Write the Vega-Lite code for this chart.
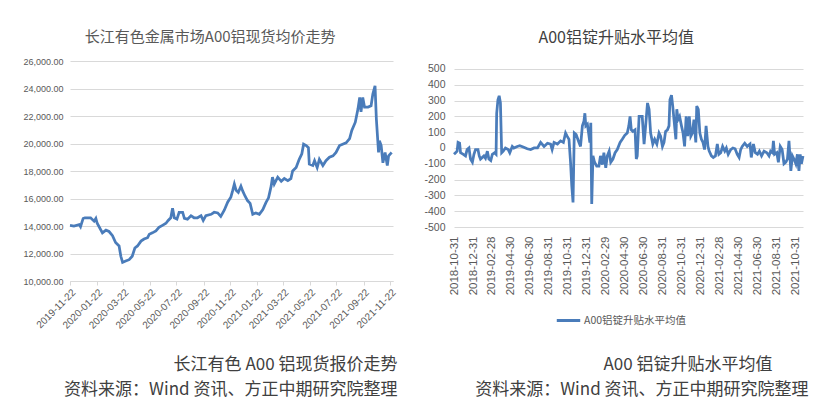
{
  "$schema": "https://vega.github.io/schema/vega-lite/v6.json",
  "background": "white",
  "padding": {"left": 22, "top": 30, "right": 5, "bottom": 0},
  "config": {
    "view": {"stroke": null},
    "font": "Noto Sans CJK SC",
    "axis": {"labelFont": "Liberation Sans", "labelColor": "#595959", "gridColor": "#d9d9d9", "title": null}
  },
  "datasets": {
    "price": [
      {"date": "2019-11-22", "price": 14050}, {"date": "2019-12-01", "price": 14000}, {"date": "2019-12-13", "price": 14100},
      {"date": "2019-12-16", "price": 13950}, {"date": "2019-12-22", "price": 14550}, {"date": "2019-12-26", "price": 14600},
      {"date": "2020-01-08", "price": 14600}, {"date": "2020-01-16", "price": 14350}, {"date": "2020-01-20", "price": 14550},
      {"date": "2020-01-23", "price": 14200}, {"date": "2020-02-04", "price": 13500}, {"date": "2020-02-12", "price": 13700},
      {"date": "2020-02-19", "price": 13600}, {"date": "2020-02-27", "price": 13300}, {"date": "2020-03-05", "price": 12800},
      {"date": "2020-03-13", "price": 12550}, {"date": "2020-03-17", "price": 11800}, {"date": "2020-03-21", "price": 11350},
      {"date": "2020-03-28", "price": 11450}, {"date": "2020-04-05", "price": 11550}, {"date": "2020-04-12", "price": 11800},
      {"date": "2020-04-18", "price": 12400}, {"date": "2020-04-24", "price": 12550}, {"date": "2020-05-02", "price": 12900},
      {"date": "2020-05-09", "price": 13050}, {"date": "2020-05-17", "price": 13150}, {"date": "2020-05-21", "price": 13400},
      {"date": "2020-05-28", "price": 13500}, {"date": "2020-06-05", "price": 13650}, {"date": "2020-06-12", "price": 13900},
      {"date": "2020-06-20", "price": 14050}, {"date": "2020-06-28", "price": 14200}, {"date": "2020-07-03", "price": 14400},
      {"date": "2020-07-09", "price": 14600}, {"date": "2020-07-13", "price": 15300}, {"date": "2020-07-17", "price": 14600},
      {"date": "2020-07-23", "price": 14500}, {"date": "2020-07-28", "price": 15000}, {"date": "2020-08-05", "price": 15000},
      {"date": "2020-08-09", "price": 14550}, {"date": "2020-08-16", "price": 14500}, {"date": "2020-08-24", "price": 14750},
      {"date": "2020-08-31", "price": 14600}, {"date": "2020-09-08", "price": 14600}, {"date": "2020-09-16", "price": 14750},
      {"date": "2020-09-21", "price": 14400}, {"date": "2020-09-27", "price": 14750}, {"date": "2020-10-09", "price": 14850},
      {"date": "2020-10-16", "price": 15000}, {"date": "2020-10-24", "price": 14950}, {"date": "2020-10-31", "price": 14700},
      {"date": "2020-11-08", "price": 15150}, {"date": "2020-11-16", "price": 15750}, {"date": "2020-11-23", "price": 16100},
      {"date": "2020-11-27", "price": 16550}, {"date": "2020-12-01", "price": 17050}, {"date": "2020-12-05", "price": 16600},
      {"date": "2020-12-10", "price": 16450}, {"date": "2020-12-16", "price": 16900}, {"date": "2020-12-20", "price": 16550},
      {"date": "2020-12-25", "price": 16200}, {"date": "2020-12-31", "price": 15850}, {"date": "2021-01-06", "price": 15650},
      {"date": "2021-01-12", "price": 14850}, {"date": "2021-01-19", "price": 14950}, {"date": "2021-01-27", "price": 14850},
      {"date": "2021-02-04", "price": 15200}, {"date": "2021-02-11", "price": 15700}, {"date": "2021-02-17", "price": 16050},
      {"date": "2021-02-23", "price": 16900}, {"date": "2021-02-26", "price": 17550}, {"date": "2021-03-02", "price": 17050},
      {"date": "2021-03-10", "price": 17550}, {"date": "2021-03-18", "price": 17250}, {"date": "2021-03-25", "price": 17450},
      {"date": "2021-04-02", "price": 17300}, {"date": "2021-04-09", "price": 17450}, {"date": "2021-04-13", "price": 18000},
      {"date": "2021-04-21", "price": 18250}, {"date": "2021-04-28", "price": 18850}, {"date": "2021-05-04", "price": 19250},
      {"date": "2021-05-08", "price": 19950}, {"date": "2021-05-14", "price": 19850}, {"date": "2021-05-19", "price": 19700},
      {"date": "2021-05-21", "price": 18500}, {"date": "2021-05-29", "price": 18400}, {"date": "2021-06-02", "price": 18750},
      {"date": "2021-06-08", "price": 18250}, {"date": "2021-06-13", "price": 18850}, {"date": "2021-06-21", "price": 18400},
      {"date": "2021-06-28", "price": 18750}, {"date": "2021-07-06", "price": 19000}, {"date": "2021-07-14", "price": 19100},
      {"date": "2021-07-21", "price": 19350}, {"date": "2021-07-29", "price": 19850}, {"date": "2021-08-05", "price": 19950},
      {"date": "2021-08-13", "price": 20050}, {"date": "2021-08-21", "price": 20350}, {"date": "2021-08-26", "price": 20950},
      {"date": "2021-09-03", "price": 21550}, {"date": "2021-09-09", "price": 22500}, {"date": "2021-09-13", "price": 23350},
      {"date": "2021-09-16", "price": 22300}, {"date": "2021-09-20", "price": 23350}, {"date": "2021-09-24", "price": 22650},
      {"date": "2021-10-02", "price": 22650}, {"date": "2021-10-09", "price": 22750}, {"date": "2021-10-13", "price": 23600},
      {"date": "2021-10-18", "price": 24200}, {"date": "2021-10-21", "price": 21800}, {"date": "2021-10-26", "price": 19350},
      {"date": "2021-10-28", "price": 20200}, {"date": "2021-11-01", "price": 19850}, {"date": "2021-11-05", "price": 18600},
      {"date": "2021-11-10", "price": 19350}, {"date": "2021-11-15", "price": 18400}, {"date": "2021-11-18", "price": 19100},
      {"date": "2021-11-22", "price": 19250}, {"date": "2021-11-25", "price": 19350}
    ],
    "prem": [
      {"date": "2018-10-31", "v": -40}, {"date": "2018-11-05", "v": -30}, {"date": "2018-11-10", "v": -20}, {"date": "2018-11-13", "v": 35},
      {"date": "2018-11-18", "v": 30}, {"date": "2018-11-21", "v": -30}, {"date": "2018-11-30", "v": -40}, {"date": "2018-12-07", "v": -50},
      {"date": "2018-12-12", "v": -10}, {"date": "2018-12-18", "v": 0}, {"date": "2018-12-23", "v": -70}, {"date": "2018-12-29", "v": -90},
      {"date": "2019-01-03", "v": -40}, {"date": "2019-01-08", "v": -10}, {"date": "2019-01-16", "v": -10}, {"date": "2019-01-20", "v": -50},
      {"date": "2019-01-24", "v": -70}, {"date": "2019-02-04", "v": -50}, {"date": "2019-02-09", "v": -65}, {"date": "2019-02-15", "v": -20},
      {"date": "2019-02-20", "v": -70}, {"date": "2019-02-26", "v": -80}, {"date": "2019-03-03", "v": -40}, {"date": "2019-03-10", "v": -30},
      {"date": "2019-03-15", "v": -40}, {"date": "2019-03-17", "v": 220}, {"date": "2019-03-21", "v": 305}, {"date": "2019-03-25", "v": 330},
      {"date": "2019-03-29", "v": 285}, {"date": "2019-04-02", "v": -30}, {"date": "2019-04-07", "v": -20}, {"date": "2019-04-14", "v": 0},
      {"date": "2019-04-23", "v": -10}, {"date": "2019-04-28", "v": -30}, {"date": "2019-05-06", "v": 10}, {"date": "2019-05-11", "v": 0},
      {"date": "2019-05-22", "v": 10}, {"date": "2019-05-30", "v": 15}, {"date": "2019-06-12", "v": 5}, {"date": "2019-06-23", "v": -5},
      {"date": "2019-07-04", "v": -10}, {"date": "2019-07-15", "v": 0}, {"date": "2019-07-26", "v": 0}, {"date": "2019-08-05", "v": 35},
      {"date": "2019-08-16", "v": 10}, {"date": "2019-08-27", "v": 30}, {"date": "2019-09-06", "v": 25}, {"date": "2019-09-11", "v": -10},
      {"date": "2019-09-17", "v": 35}, {"date": "2019-09-28", "v": 25}, {"date": "2019-10-08", "v": 45}, {"date": "2019-10-17", "v": 35},
      {"date": "2019-10-24", "v": 95}, {"date": "2019-10-29", "v": 75}, {"date": "2019-11-04", "v": 55}, {"date": "2019-11-09", "v": -90},
      {"date": "2019-11-13", "v": -240}, {"date": "2019-11-17", "v": -345}, {"date": "2019-11-21", "v": 95}, {"date": "2019-11-27", "v": 85},
      {"date": "2019-12-06", "v": 35}, {"date": "2019-12-11", "v": 10}, {"date": "2019-12-17", "v": 140}, {"date": "2019-12-22", "v": 170},
      {"date": "2019-12-25", "v": 220}, {"date": "2019-12-28", "v": 140}, {"date": "2020-01-02", "v": 150}, {"date": "2020-01-06", "v": 95},
      {"date": "2020-01-10", "v": 35}, {"date": "2020-01-13", "v": 160}, {"date": "2020-01-16", "v": -355}, {"date": "2020-01-20", "v": -50},
      {"date": "2020-01-25", "v": -90}, {"date": "2020-02-01", "v": -115}, {"date": "2020-02-08", "v": -115}, {"date": "2020-02-13", "v": -50},
      {"date": "2020-02-19", "v": -105}, {"date": "2020-02-24", "v": -30}, {"date": "2020-03-01", "v": -125}, {"date": "2020-03-06", "v": -50},
      {"date": "2020-03-12", "v": -20}, {"date": "2020-03-17", "v": -90}, {"date": "2020-03-24", "v": -70}, {"date": "2020-03-31", "v": -30},
      {"date": "2020-04-07", "v": -10}, {"date": "2020-04-16", "v": 35}, {"date": "2020-04-23", "v": 55}, {"date": "2020-05-01", "v": 80},
      {"date": "2020-05-09", "v": 95}, {"date": "2020-05-14", "v": 140}, {"date": "2020-05-18", "v": 200}, {"date": "2020-05-22", "v": 115},
      {"date": "2020-05-27", "v": 105}, {"date": "2020-06-03", "v": 115}, {"date": "2020-06-07", "v": -70}, {"date": "2020-06-10", "v": -50},
      {"date": "2020-06-16", "v": 200}, {"date": "2020-06-21", "v": 200}, {"date": "2020-06-26", "v": 200}, {"date": "2020-07-02", "v": 25},
      {"date": "2020-07-07", "v": 140}, {"date": "2020-07-13", "v": 285}, {"date": "2020-07-18", "v": 245}, {"date": "2020-07-23", "v": 95},
      {"date": "2020-07-30", "v": 25}, {"date": "2020-08-05", "v": 55}, {"date": "2020-08-12", "v": 25}, {"date": "2020-08-19", "v": 95},
      {"date": "2020-08-24", "v": 75}, {"date": "2020-08-30", "v": 10}, {"date": "2020-09-04", "v": 35}, {"date": "2020-09-09", "v": 105},
      {"date": "2020-09-15", "v": 115}, {"date": "2020-09-20", "v": 140}, {"date": "2020-09-23", "v": 305}, {"date": "2020-09-28", "v": 335},
      {"date": "2020-10-02", "v": 265}, {"date": "2020-10-06", "v": 180}, {"date": "2020-10-12", "v": 55}, {"date": "2020-10-15", "v": 245},
      {"date": "2020-10-19", "v": 180}, {"date": "2020-10-24", "v": 200}, {"date": "2020-10-30", "v": 140}, {"date": "2020-11-04", "v": 95},
      {"date": "2020-11-09", "v": 10}, {"date": "2020-11-14", "v": 200}, {"date": "2020-11-19", "v": 75}, {"date": "2020-11-24", "v": 200},
      {"date": "2020-11-29", "v": 75}, {"date": "2020-12-04", "v": 95}, {"date": "2020-12-09", "v": 180}, {"date": "2020-12-15", "v": 35},
      {"date": "2020-12-18", "v": 265}, {"date": "2020-12-23", "v": 245}, {"date": "2020-12-28", "v": 95}, {"date": "2021-01-02", "v": 55},
      {"date": "2021-01-07", "v": 35}, {"date": "2021-01-12", "v": -10}, {"date": "2021-01-17", "v": 140}, {"date": "2021-01-23", "v": 10},
      {"date": "2021-01-27", "v": -20}, {"date": "2021-02-03", "v": -50}, {"date": "2021-02-09", "v": -60}, {"date": "2021-02-16", "v": -50},
      {"date": "2021-02-22", "v": 25}, {"date": "2021-02-27", "v": -40}, {"date": "2021-03-05", "v": -30}, {"date": "2021-03-11", "v": 10},
      {"date": "2021-03-18", "v": -20}, {"date": "2021-03-23", "v": 0}, {"date": "2021-03-29", "v": -40}, {"date": "2021-04-06", "v": -10},
      {"date": "2021-04-13", "v": 0}, {"date": "2021-04-20", "v": -5}, {"date": "2021-04-27", "v": -40}, {"date": "2021-05-03", "v": -60},
      {"date": "2021-05-08", "v": -10}, {"date": "2021-05-13", "v": 10}, {"date": "2021-05-21", "v": 30}, {"date": "2021-05-29", "v": 10},
      {"date": "2021-06-07", "v": 25}, {"date": "2021-06-11", "v": -60}, {"date": "2021-06-18", "v": 25}, {"date": "2021-06-24", "v": -30},
      {"date": "2021-07-01", "v": -40}, {"date": "2021-07-07", "v": -20}, {"date": "2021-07-14", "v": -50}, {"date": "2021-07-22", "v": -20},
      {"date": "2021-07-31", "v": -30}, {"date": "2021-08-07", "v": -50}, {"date": "2021-08-12", "v": -20}, {"date": "2021-08-18", "v": -30},
      {"date": "2021-08-21", "v": 45}, {"date": "2021-08-25", "v": -40}, {"date": "2021-09-01", "v": -30}, {"date": "2021-09-06", "v": -90},
      {"date": "2021-09-12", "v": 10}, {"date": "2021-09-18", "v": -10}, {"date": "2021-09-24", "v": -100}, {"date": "2021-09-30", "v": -90},
      {"date": "2021-10-05", "v": -70}, {"date": "2021-10-10", "v": 45}, {"date": "2021-10-16", "v": -145}, {"date": "2021-10-21", "v": -50},
      {"date": "2021-10-26", "v": -70}, {"date": "2021-11-01", "v": -100}, {"date": "2021-11-06", "v": -40}, {"date": "2021-11-11", "v": -145},
      {"date": "2021-11-15", "v": -40}, {"date": "2021-11-19", "v": -100}, {"date": "2021-11-24", "v": -50}
    ]
  },
  "spacing": 25,
  "resolve": {"scale": {"color": "independent"}, "legend": {"color": "independent"}},
  "hconcat": [
    {
      "title": {"text": "资料来源：Wind 资讯、方正中期研究院整理", "orient": "bottom", "anchor": "end", "fontSize": 17, "fontWeight": "normal", "color": "#404040", "offset": 9},
      "vconcat": [
        {
          "title": {"text": "长江有色 A00 铝现货报价走势", "orient": "bottom", "anchor": "end", "fontSize": 17, "fontWeight": "normal", "color": "#404040", "offset": 27},
          "vconcat": [
            {
              "width": 323,
              "height": 220,
              "title": {"text": "长江有色金属市场A00铝现货均价走势", "fontSize": 15, "fontWeight": "normal", "color": "#595959", "frame": "bounds", "anchor": "middle", "offset": 12},
              "data": {"name": "price"},
              "mark": {"type": "line", "color": "#4a7cba", "strokeWidth": 2.75},
              "encoding": {
                "x": {
                  "field": "date", "type": "temporal",
                  "scale": {"type": "utc", "nice": false, "domain": [{"year": 2019, "month": 11, "date": 22, "utc": true}, {"year": 2021, "month": 11, "date": 28, "utc": true}]},
                  "axis": {
                    "values": [
                      {"year": 2019, "month": 11, "date": 22, "utc": true}, {"year": 2020, "month": 1, "date": 22, "utc": true},
                      {"year": 2020, "month": 3, "date": 22, "utc": true}, {"year": 2020, "month": 5, "date": 22, "utc": true},
                      {"year": 2020, "month": 7, "date": 22, "utc": true}, {"year": 2020, "month": 9, "date": 22, "utc": true},
                      {"year": 2020, "month": 11, "date": 22, "utc": true}, {"year": 2021, "month": 1, "date": 22, "utc": true},
                      {"year": 2021, "month": 3, "date": 22, "utc": true}, {"year": 2021, "month": 5, "date": 22, "utc": true},
                      {"year": 2021, "month": 7, "date": 22, "utc": true}, {"year": 2021, "month": 9, "date": 22, "utc": true},
                      {"year": 2021, "month": 11, "date": 22, "utc": true}
                    ],
                    "format": "%Y-%m-%d", "labelAngle": -45, "labelFontSize": 10, "grid": false,
                    "domainColor": "#d9d9d9", "tickColor": "#d9d9d9", "tickSize": 4, "labelPadding": 2, "labelOverlap": false
                  }
                },
                "y": {
                  "field": "price", "type": "quantitative",
                  "scale": {"domain": [10000, 26000], "nice": false, "zero": false},
                  "axis": {"values": [10000, 12000, 14000, 16000, 18000, 20000, 22000, 24000, 26000], "format": ",.2f", "labelFontSize": 9, "domain": false, "ticks": false, "labelPadding": 7}
                }
              }
            }
          ]
        }
      ]
    },
    {
      "title": {"text": "资料来源：Wind 资讯、方正中期研究院整理", "orient": "bottom", "anchor": "end", "fontSize": 17, "fontWeight": "normal", "color": "#404040", "offset": 9},
      "resolve": {"scale": {"color": "independent"}, "legend": {"color": "independent"}},
      "vconcat": [
        {
          "title": {"text": "A00 铝锭升贴水平均值", "orient": "bottom", "anchor": "end", "fontSize": 17, "fontWeight": "normal", "color": "#404040", "offset": 30, "dx": -36},
          "resolve": {"scale": {"color": "independent"}, "legend": {"color": "independent"}},
          "vconcat": [
            {
              "width": 349,
              "height": 166,
              "title": {"text": "A00铝锭升贴水平均值", "fontSize": 16, "fontWeight": "normal", "color": "#404040", "frame": "bounds", "anchor": "middle", "offset": 15},
              "data": {"name": "prem"},
              "mark": {"type": "line", "strokeWidth": 2.75},
              "encoding": {
                "x": {
                  "field": "date", "type": "temporal",
                  "scale": {"type": "utc", "nice": false, "domain": [{"year": 2018, "month": 10, "date": 31, "utc": true}, {"year": 2021, "month": 11, "date": 24, "utc": true}]},
                  "axis": {
                    "values": [
                      {"year": 2018, "month": 10, "date": 31, "utc": true}, {"year": 2018, "month": 12, "date": 31, "utc": true},
                      {"year": 2019, "month": 2, "date": 28, "utc": true}, {"year": 2019, "month": 4, "date": 30, "utc": true},
                      {"year": 2019, "month": 6, "date": 30, "utc": true}, {"year": 2019, "month": 8, "date": 31, "utc": true},
                      {"year": 2019, "month": 10, "date": 31, "utc": true}, {"year": 2019, "month": 12, "date": 31, "utc": true},
                      {"year": 2020, "month": 2, "date": 29, "utc": true}, {"year": 2020, "month": 4, "date": 30, "utc": true},
                      {"year": 2020, "month": 6, "date": 30, "utc": true}, {"year": 2020, "month": 8, "date": 31, "utc": true},
                      {"year": 2020, "month": 10, "date": 31, "utc": true}, {"year": 2020, "month": 12, "date": 31, "utc": true},
                      {"year": 2021, "month": 2, "date": 28, "utc": true}, {"year": 2021, "month": 4, "date": 30, "utc": true},
                      {"year": 2021, "month": 6, "date": 30, "utc": true}, {"year": 2021, "month": 8, "date": 31, "utc": true},
                      {"year": 2021, "month": 10, "date": 31, "utc": true}
                    ],
                    "format": "%Y-%m-%d", "labelAngle": -90, "labelFontSize": 11.5, "grid": false,
                    "domain": false, "ticks": false, "labelPadding": 9, "labelOverlap": false
                  }
                },
                "y": {
                  "field": "v", "type": "quantitative",
                  "scale": {"domain": [-500, 550.6], "nice": false},
                  "axis": {"values": [-500, -400, -300, -200, -100, 0, 100, 200, 300, 400, 500], "labelExpr": "'' + datum.value", "labelFontSize": 10.5, "domain": false, "ticks": false, "labelPadding": 9}
                },
                "color": {
                  "datum": "A00铝锭升贴水平均值",
                  "scale": {"range": ["#4a7cba"]},
                  "legend": {"title": null, "orient": "none", "legendX": 101, "legendY": 246, "symbolType": "stroke", "symbolSize": 550, "symbolStrokeWidth": 3, "labelOffset": 2, "labelFontSize": 10.5, "labelColor": "#595959", "labelFont": "Noto Sans CJK SC"}
                }
              }
            }
          ]
        }
      ]
    }
  ]
}
